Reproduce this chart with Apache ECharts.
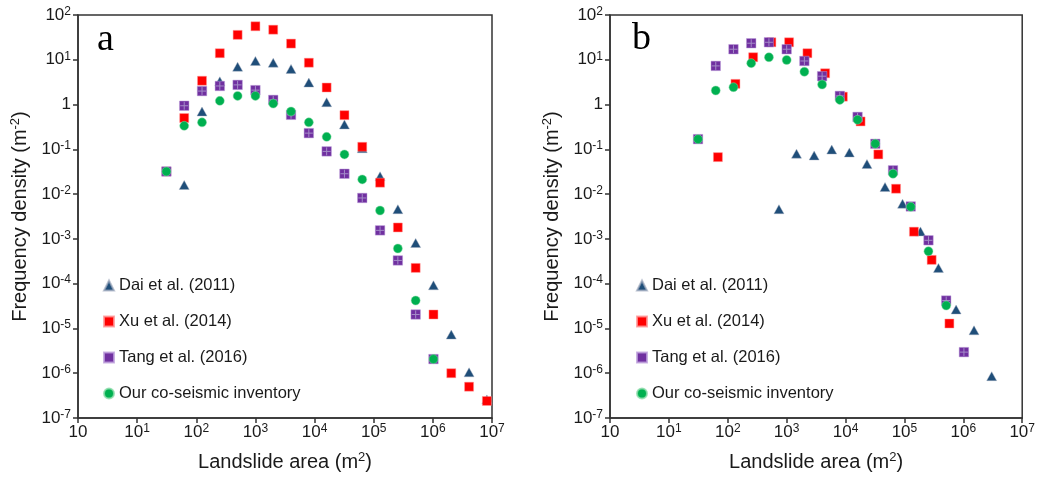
<!DOCTYPE html>
<html>
<head>
<meta charset="utf-8">
<script src="https://cdn.jsdelivr.net/npm/echarts@6/dist/echarts.min.js"></script>
<style>html,body{margin:0;padding:0;background:#fff;}#c{width:1038px;height:482px;}</style>
</head>
<body>
<div id="c"></div>
<script>
// ---------- data ----------
const legendNames = ['Dai et al. (2011)', 'Xu et al. (2014)', 'Tang et al. (2016)', 'Our co-seismic inventory'];
const panelLabels = ['a', 'b'];
const xTickExps = [0, 1, 2, 3, 4, 5, 6, 7];
const yTickExps = [2, 1, 0, -1, -2, -3, -4, -5, -6, -7];

// panel a
const daiA_x = [62.5, 125, 250, 500, 1000, 2000, 4000, 8000, 16000, 32000, 64000, 128000, 256000, 512000, 1024000, 2048000, 4096000, 8192000];
const daiA_y = [0.016, 0.70, 3.3, 7.0, 9.4, 8.6, 6.25, 3.1, 1.13, 0.36, 0.106, 0.025, 0.0046, 8.1e-4, 9.2e-5, 7.3e-6, 1.05e-6, 2.6e-7];
const xuA_x = [31.25, 62.5, 125, 250, 500, 1000, 2000, 4000, 8000, 16000, 32000, 64000, 128000, 256000, 512000, 1024000, 2048000, 4096000, 8192000];
const xuA_y = [0.032, 0.50, 3.4, 14, 36, 56, 47, 23, 8.6, 2.4, 0.58, 0.114, 0.018, 0.0018, 2.25e-4, 2.05e-5, 1.0e-6, 5.0e-7, 2.4e-7];
const tangA_x = [31.25, 62.5, 125, 250, 500, 1000, 2000, 4000, 8000, 16000, 32000, 64000, 128000, 256000, 512000, 1024000];
const tangA_y = [0.032, 0.94, 2.0, 2.6, 2.75, 2.1, 1.27, 0.59, 0.23, 0.090, 0.0285, 0.0082, 0.00155, 3.3e-4, 2.05e-5, 2.07e-6];
const ourA_x = [31.25, 62.5, 125, 250, 500, 1000, 2000, 4000, 8000, 16000, 32000, 64000, 128000, 256000, 512000, 1024000];
const ourA_y = [0.032, 0.335, 0.40, 1.21, 1.56, 1.56, 1.05, 0.70, 0.40, 0.19, 0.077, 0.0213, 0.0043, 6.1e-4, 4.2e-5, 2.07e-6];

// panel b
const daiB_x = [740, 1470, 2930, 5830, 11600, 23100, 46800, 92900, 187000, 378000, 754000, 1520000, 3030000];
const daiB_y = [0.0046, 0.080, 0.073, 0.099, 0.085, 0.047, 0.0144, 0.0061, 0.00147, 2.25e-4, 2.65e-5, 9.1e-6, 8.6e-7];
const xuB_x = [68, 135, 270, 550, 1100, 2250, 4500, 9000, 18000, 36000, 72000, 145000, 290000, 580000];
const xuB_y = [0.067, 2.9, 11.4, 24.6, 24.6, 14, 5.0, 1.5, 0.42, 0.077, 0.0132, 0.00145, 3.4e-4, 1.29e-5];
const tangB_x = [31.25, 62.5, 125, 250, 500, 1000, 2000, 4000, 8000, 16000, 32000, 64000, 128000, 256000, 512000, 1024000];
const tangB_y = [0.169, 7.3, 17.2, 23.4, 24.6, 17.2, 9.4, 4.3, 1.56, 0.53, 0.133, 0.034, 0.0053, 9.3e-4, 4.2e-5, 2.96e-6];
const ourB_x = [31.25, 62.5, 125, 250, 500, 1000, 2000, 4000, 8000, 16000, 32000, 64000, 128000, 256000, 512000];
const ourB_y = [0.169, 2.06, 2.44, 8.4, 11.4, 9.9, 5.4, 2.8, 1.27, 0.456, 0.133, 0.0285, 0.0052, 5.3e-4, 3.25e-5];

// ---------- chart ----------
const FONT = "'Liberation Sans', Arial, sans-serif";
const zip = (xs, ys) => xs.map((x, i) => [x, ys[i]]);
const sup = { fontSize: 12, verticalAlign: 'top', lineHeight: 19, fontFamily: FONT, color: '#1a1a1a' };
const base = { fontSize: 17, lineHeight: 19, fontFamily: FONT, color: '#1a1a1a' };

function expOf(v) { return Math.round(Math.log10(v)); }
function xFmt(v) { const e = expOf(v); return e === 0 ? '{b|10}' : '{b|10}{s|' + e + '}'; }
function yFmt(v) { const e = expOf(v); return e === 0 ? '{b|1}' : '{b|10}{s|' + e + '}'; }

const lineStyle = { color: '#333', width: 1.5 };
const grids = [
  { left: 78, top: 15, width: 414, height: 403 },
  { left: 610, top: 15, width: 413, height: 403 }
].map(g => Object.assign(g, { show: true, borderColor: '#333', borderWidth: 1.5, containLabel: false }));

const titleRich = { s: { fontSize: 13, verticalAlign: 'top', lineHeight: 23, fontFamily: FONT, color: '#1a1a1a' } };

function xAxis(i) {
  return {
    type: 'log', logBase: 10, gridIndex: i, min: Math.pow(10, xTickExps[0]), max: Math.pow(10, xTickExps[xTickExps.length - 1]),
    splitNumber: xTickExps.length - 1,
    axisLine: { show: true, lineStyle }, axisTick: { show: true, length: 5, lineStyle },
    splitLine: { show: false }, minorTick: { show: false },
    axisLabel: { formatter: xFmt, margin: 5, rich: { b: base, s: sup } },
    name: 'Landslide area (m{s|2})', nameLocation: 'middle', nameGap: 33,
    nameTextStyle: { fontSize: 20, fontFamily: FONT, color: '#1a1a1a', rich: titleRich, lineHeight: 23 }
  };
}
function yAxis(i) {
  return {
    type: 'log', logBase: 10, gridIndex: i, min: Math.pow(10, yTickExps[yTickExps.length - 1]), max: Math.pow(10, yTickExps[0]),
    splitNumber: yTickExps.length - 1,
    axisLine: { show: true, lineStyle }, axisTick: { show: true, length: 5, lineStyle },
    splitLine: { show: false }, minorTick: { show: false },
    axisLabel: { formatter: yFmt, margin: 7, rich: { b: base, s: sup } },
    name: 'Frequency density (m{s|-2})', nameLocation: 'middle', nameGap: 46,
    nameTextStyle: { fontSize: 20, fontFamily: FONT, color: '#1a1a1a', rich: titleRich, lineHeight: 23 }
  };
}

const COL = { dai: '#1F4E79', xu: '#FF0000', tang: '#7030A0', our: '#00B050', cross: '#A48CC8' };

function panelSeries(i, dai, xu, tang, our) {
  const common = { type: 'scatter', xAxisIndex: i, yAxisIndex: i, emphasis: { disabled: true }, silent: true };
  return [
    Object.assign({}, common, { name: legendNames[0], data: dai, symbol: 'triangle', symbolSize: [10, 9],
      itemStyle: { color: COL.dai, borderColor: 'rgba(160,170,190,0.7)', borderWidth: 0.6, opacity: 1 } }),
    Object.assign({}, common, { name: legendNames[1], data: xu, symbol: 'rect', symbolSize: 9,
      itemStyle: { color: COL.xu, borderColor: 'rgba(255,150,150,0.8)', borderWidth: 0.6, opacity: 1 } }),
    Object.assign({}, common, { name: legendNames[2], data: tang, symbol: 'rect', symbolSize: 9.5,
      itemStyle: { color: COL.tang, borderColor: 'rgba(190,160,220,0.8)', borderWidth: 0.6, opacity: 1 } }),
    Object.assign({}, common, { name: 'tang-pattern', data: tang, symbol: 'path://M5,0L5,10M0,5L10,5', symbolSize: 8,
      itemStyle: { color: 'transparent', borderColor: COL.cross, borderWidth: 1, opacity: 1 } }),
    Object.assign({}, common, { name: legendNames[3], data: our, symbol: 'circle', symbolSize: 9,
      itemStyle: { color: COL.our, borderColor: 'rgba(140,220,170,0.8)', borderWidth: 0.6, opacity: 1 } })
  ];
}

const legendCommon = {
  orient: 'vertical', itemGap: 19, itemWidth: 10, itemHeight: 10, selectedMode: false, padding: 0,
  textStyle: { fontSize: 16.5, lineHeight: 16, fontFamily: FONT, color: '#1a1a1a' }, data: legendNames
};

const labelStyle = { fontFamily: "'Liberation Serif', 'Times New Roman', serif", fontSize: 38, fontWeight: 'normal', color: '#000' };

const option = {
  animation: false,
  backgroundColor: '#fff',
  title: [
    { text: panelLabels[0], left: 97, top: 21, padding: 0, textStyle: labelStyle },
    { text: panelLabels[1], left: 632, top: 20, padding: 0, textStyle: labelStyle }
  ],
  legend: [
    Object.assign({}, legendCommon, { left: 103, top: 277 }),
    Object.assign({}, legendCommon, { left: 636, top: 277 })
  ],
  grid: grids,
  xAxis: [xAxis(0), xAxis(1)],
  yAxis: [yAxis(0), yAxis(1)],
  series: [].concat(
    panelSeries(0, zip(daiA_x, daiA_y), zip(xuA_x, xuA_y), zip(tangA_x, tangA_y), zip(ourA_x, ourA_y)),
    panelSeries(1, zip(daiB_x, daiB_y), zip(xuB_x, xuB_y), zip(tangB_x, tangB_y), zip(ourB_x, ourB_y))
  )
};

const chart = echarts.init(document.getElementById('c'), null, { renderer: 'canvas' });
chart.setOption(option);
</script>
</body>
</html>
